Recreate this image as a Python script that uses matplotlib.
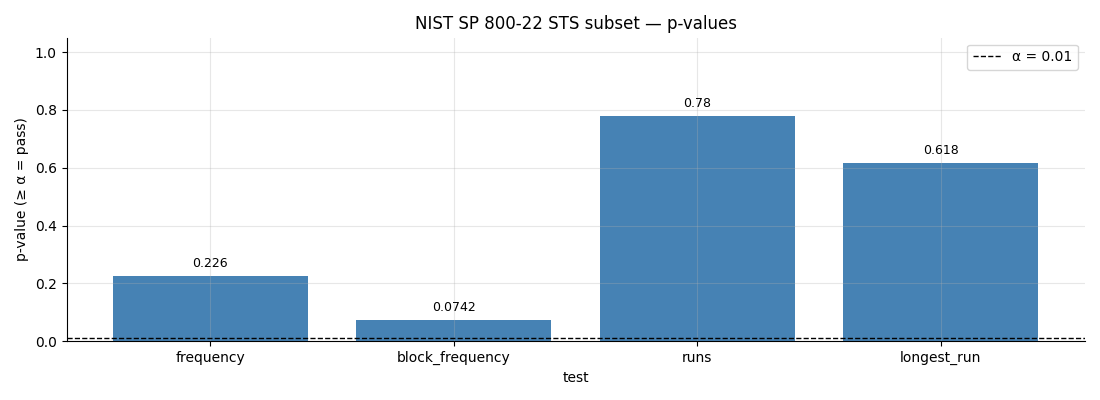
import matplotlib
matplotlib.use('Agg')
import matplotlib.pyplot as plt

# dados dos testes
tests = ['frequency', 'block_frequency', 'runs', 'longest_run']
pvalues = [0.226, 0.0742, 0.78, 0.618]
labels = ['0.226', '0.0742', '0.78', '0.618']
alpha = 0.01

fig, ax = plt.subplots(figsize=(11, 4), dpi=100)
fig.subplots_adjust(left=0.0605, right=0.986, top=0.906, bottom=0.147)

bars = ax.bar(tests, pvalues, color='steelblue', width=0.8)
ax.bar_label(bars, labels=labels, padding=4, fontsize=9)

ax.axhline(alpha, color='black', linestyle='--', linewidth=1, label='α = 0.01')

ax.set_ylim(0, 1.05)
ax.set_title('NIST SP 800-22 STS subset — p-values')
ax.set_xlabel('test')
ax.set_ylabel('p-value (≥ α = pass)')
ax.grid(True, alpha=0.3)
ax.spines['top'].set_visible(False)
ax.spines['right'].set_visible(False)
ax.legend(loc='upper right')

fig.savefig('out.png')
